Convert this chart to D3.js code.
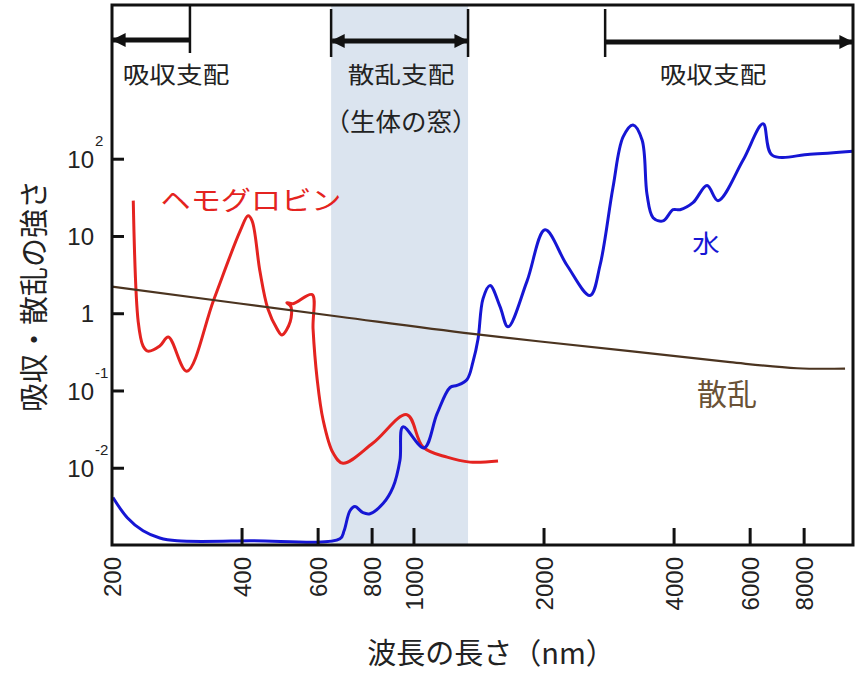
<!DOCTYPE html>
<html lang="ja">
<head>
<meta charset="UTF-8">
<title>吸収・散乱の強さ</title>
<style>
  body { margin: 0; background: #fff; }
  svg { display: block; }
  .cjk { font-family: "Noto Sans CJK JP", "Noto Sans", sans-serif; }
  .num { font-family: "Liberation Sans", Arial, sans-serif; }
</style>
</head>
<body>
<svg width="866" height="678"></svg>
<script src="https://d3js.org/d3.v7.min.js"></script>
<script>
// tick labels
const xTickValues = [200, 400, 600, 800, 1000, 2000, 4000, 6000, 8000];
const yTickValues = [100, 10, 1, 0.1, 0.01];
const yTickBase = ["10", "10", "1", "10", "10"];
const yTickSup = ["2", "", "", "-1", "-2"];

// hemoglobin (red)
const hbWavelength = [224, 230, 236, 242, 258, 270, 298, 344, 396, 413, 422, 440, 459, 482, 495, 517, 519, 508, 525, 581, 584, 597, 616, 650, 685, 804, 963, 1050, 1193, 1348, 1565];
const hbValue = [29.1, 0.786, 0.382, 0.328, 0.382, 0.50, 0.18, 1.52, 11.8, 18.5, 15.9, 3.54, 1.16, 0.637, 0.531, 0.786, 1.235, 1.39, 1.35, 1.77, 0.637, 0.141, 0.0424, 0.0157, 0.0116, 0.0212, 0.0493, 0.0188, 0.0139, 0.0120, 0.0124];

// water (blue)
const waterWavelength = [201, 217, 236, 258, 283, 417, 674, 689, 711, 730, 762, 791, 848, 894, 928, 943, 1055, 1131, 1212, 1258, 1327, 1369, 1407, 1445, 1500, 1582, 1651, 1826, 2011, 2260, 2556, 2696, 2888, 3048, 3214, 3373, 3463, 3576, 3771, 3978, 4129, 4424, 4768, 5055, 5775, 6427, 6744, 8256, 10380];
const waterValue = [0.00418, 0.00229, 0.00155, 0.00125, 0.00115, 0.00115, 0.00122, 0.00155, 0.00282, 0.00319, 0.00266, 0.00258, 0.00349, 0.00565, 0.0127, 0.0344, 0.0183, 0.0508, 0.111, 0.118, 0.141, 0.236, 0.471, 1.57, 2.32, 1.235, 0.676, 2.62, 12.2, 4.24, 1.72, 4.24, 43, 194, 278, 177, 34.9, 17.5, 15.9, 22.2, 22.2, 27.4, 45.7, 29.1, 97, 287, 113, 116, 127];

// scattering (brown)
const scatWavelength = [200, 674, 1369, 3163, 5390, 7702, 9949];
const scatValue = [2.25, 0.913, 0.548, 0.328, 0.236, 0.197, 0.195];

// dominance regions along the top
const absorbLeft = [200, 303];
const windowBand = [643, 1334];
const absorbRight = [2770, 10380];

const svg = d3.select("svg");
const pl = 112, pr = 853, pt = 5, pb = 545;

const x = d3.scaleLog().domain([200, 10380]).range([pl, pr]);
const y = d3.scaleLog().domain([1e-3, 1.1e4]).range([pb + 0.5, pt - 3.5]);

const RED = "#e42320", BLUE = "#1616d4", BROWN = "#4b3420";

const defs = svg.append("defs");
defs.append("clipPath").attr("id", "plot")
  .append("rect").attr("x", pl).attr("y", pt).attr("width", pr - pl).attr("height", pb - pt);

// biological window band
svg.append("rect")
  .attr("x", x(windowBand[0])).attr("y", pt)
  .attr("width", x(windowBand[1]) - x(windowBand[0])).attr("height", pb - pt)
  .attr("fill", "#dbe4ef");

const line = (xs, ys) => d3.line()
  .x((d, i) => x(xs[i]))
  .y((d, i) => y(ys[i]))
  .curve(d3.curveCatmullRom.alpha(0.5))(xs);

const g = svg.append("g").attr("clip-path", "url(#plot)");
g.append("path").attr("d", line(hbWavelength, hbValue))
  .attr("fill", "none").attr("stroke", RED).attr("stroke-width", 3);
g.append("path").attr("d", line(waterWavelength, waterValue))
  .attr("fill", "none").attr("stroke", BLUE).attr("stroke-width", 3);
g.append("path").attr("d", line(scatWavelength, scatValue))
  .attr("fill", "none").attr("stroke", BROWN).attr("stroke-width", 2.2);

// ticks (inside)
svg.append("g").selectAll("line").data(xTickValues.slice(1)).join("line")
  .attr("x1", d => x(d)).attr("x2", d => x(d))
  .attr("y1", pb).attr("y2", pb - 17)
  .attr("stroke", "#111").attr("stroke-width", 3);
svg.append("g").selectAll("line").data(yTickValues).join("line")
  .attr("x1", pl).attr("x2", pl + 12)
  .attr("y1", d => y(d)).attr("y2", d => y(d))
  .attr("stroke", "#111").attr("stroke-width", 3);

// frame
svg.append("rect").attr("x", pl).attr("y", pt)
  .attr("width", pr - pl).attr("height", pb - pt)
  .attr("fill", "none").attr("stroke", "#111").attr("stroke-width", 3);

// x tick labels, rotated
svg.append("g").selectAll("text").data(xTickValues).join("text")
  .attr("class", "num")
  .attr("transform", d => `translate(${x(d)},557) rotate(-90)`)
  .attr("text-anchor", "end").attr("dy", "0.36em")
  .attr("font-size", 24).attr("fill", "#222")
  .text(d => d);

// y tick labels with superscripts
const yl = svg.append("g").attr("class", "num").attr("fill", "#222");
yl.selectAll("text.base").data(yTickValues).join("text")
  .attr("class", "base")
  .attr("x", 94).attr("y", d => y(d)).attr("dy", "0.36em")
  .attr("text-anchor", "end").attr("font-size", 24)
  .text((d, i) => yTickBase[i]);
yl.selectAll("text.sup").data(yTickValues).join("text")
  .attr("class", "sup")
  .attr("x", 95).attr("y", d => y(d) - 13)
  .attr("font-size", 15)
  .text((d, i) => yTickSup[i]);

// axis titles
svg.append("text").attr("class", "cjk")
  .attr("x", 491).attr("y", 664).attr("text-anchor", "middle")
  .attr("font-size", 29).attr("fill", "#222")
  .text("波長の長さ（nm）");
svg.append("text").attr("class", "cjk")
  .attr("transform", "translate(32,296) rotate(-90)")
  .attr("text-anchor", "middle").attr("dominant-baseline", "central")
  .attr("font-size", 29).attr("fill", "#222")
  .text("吸収・散乱の強さ");

// region markers and arrows
defs.append("marker").attr("id", "head")
  .attr("viewBox", "0 0 10 10").attr("refX", 9).attr("refY", 5)
  .attr("markerWidth", 3.6).attr("markerHeight", 2.8).attr("orient", "auto-start-reverse")
  .attr("markerUnits", "strokeWidth")
  .append("path").attr("d", "M0,0 L10,5 L0,10 Z").attr("fill", "#111");

const marks = svg.append("g").attr("stroke", "#111");
[absorbLeft[1], windowBand[0], windowBand[1], absorbRight[0]].forEach((w, i) => {
  marks.append("line")
    .attr("x1", x(w)).attr("x2", x(w))
    .attr("y1", i === 0 ? pt : 9).attr("y2", i === 0 ? 53 : 57)
    .attr("stroke-width", 2.5);
});
marks.append("line")
  .attr("x1", x(absorbLeft[1])).attr("x2", x(absorbLeft[0]) + 1)
  .attr("y1", 40).attr("y2", 40).attr("stroke-width", 5)
  .attr("marker-end", "url(#head)");
marks.append("line")
  .attr("x1", x(windowBand[0]) + 1).attr("x2", x(windowBand[1]) - 1)
  .attr("y1", 41).attr("y2", 41).attr("stroke-width", 5)
  .attr("marker-start", "url(#head)").attr("marker-end", "url(#head)");
marks.append("line")
  .attr("x1", x(absorbRight[0])).attr("x2", x(absorbRight[1]) - 1)
  .attr("y1", 42).attr("y2", 42).attr("stroke-width", 5)
  .attr("marker-end", "url(#head)");

// labels; sx widens glyphs horizontally like the original artwork
const label = (tx, ty, txt, size, color, sx) => {
  svg.append("text").attr("class", "cjk")
    .attr("transform", `translate(${tx},${ty}) scale(${sx},1)`)
    .attr("text-anchor", "middle")
    .attr("dominant-baseline", "central")
    .attr("font-size", size).attr("fill", color).text(txt);
};
label(176, 73, "吸収支配", 23, "#222", 1.16);
label(401, 73, "散乱支配", 23, "#222", 1.16);
label(401, 120, "（生体の窓）", 25, "#222", 1.02);
label(713, 73, "吸収支配", 23, "#222", 1.16);
label(251, 198, "ヘモグロビン", 26, RED, 1.16);
label(706, 243, "水", 25, BLUE, 1.1);
label(727, 392, "散乱", 30, "#6a5236", 1.0);
</script>
</body>
</html>
